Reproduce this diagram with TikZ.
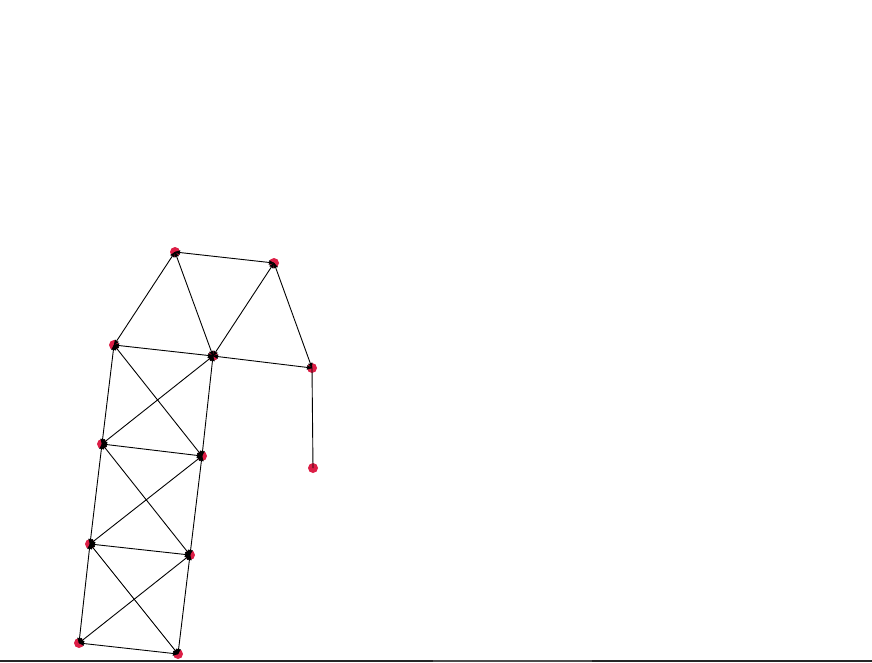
\documentclass[tikz,border=0pt]{standalone}
\usepackage{tikz}
\usetikzlibrary{arrows}
\definecolor{nodered}{RGB}{220,30,70}

\begin{document}
\begin{tikzpicture}[x=1pt,y=-1pt,>=stealth',
dot node/.style={circle,fill=nodered,draw=none,minimum size=10pt,inner sep=0pt},
link/.style={<->,line width=0.9pt,shorten >=0pt,shorten <=0pt}]
\useasboundingbox (0,0) rectangle (872,662);
% nodes
  \node[dot node] (0) at (175,252) {};
  \node[dot node] (1) at (274,263) {};
  \node[dot node] (2) at (114,345) {};
  \node[dot node] (3) at (213,356) {};
  \node[dot node] (4) at (312,368) {};
  \node[dot node] (5) at (313,468) {};
  \node[dot node] (6) at (102,444) {};
  \node[dot node] (7) at (202,456) {};
  \node[dot node] (8) at (90,544) {};
  \node[dot node] (9) at (190,555) {};
  \node[dot node] (10) at (79,643) {};
  \node[dot node] (11) at (178,654) {};
  % edges
  \path[link]
    (0.center) edge (1.center)
    (0.center) edge (2.center)
    (0.center) edge (3.center)
    (1.center) edge (3.center)
    (1.center) edge (4.center)
    (2.center) edge (3.center)
    (3.center) edge (4.center)
    (2.center) edge (6.center)
    (2.center) edge (7.center)
    (3.center) edge (6.center)
    (3.center) edge (7.center)
    (6.center) edge (7.center)
    (6.center) edge (8.center)
    (6.center) edge (9.center)
    (7.center) edge (8.center)
    (7.center) edge (9.center)
    (8.center) edge (9.center)
    (8.center) edge (10.center)
    (8.center) edge (11.center)
    (9.center) edge (10.center)
    (9.center) edge (11.center)
    (10.center) edge (11.center);
  \draw[line width=0.9pt] (4.center) -- (5.center);
  % bottom bar
  \fill[black!85] (0,660) rectangle (872,662);
  \fill[black!70] (433,660) rectangle (592,662);
\end{tikzpicture}
\end{document}
